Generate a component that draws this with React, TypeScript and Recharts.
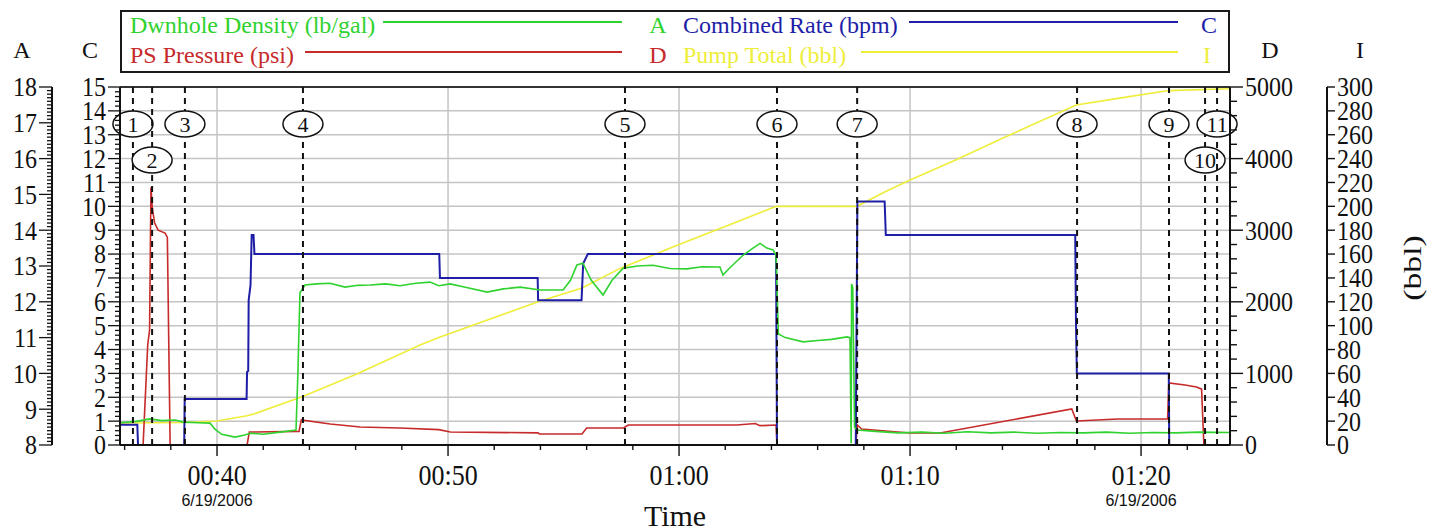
import React from "react";
import {
  LineChart,
  Line,
  XAxis,
  YAxis,
  CartesianGrid,
  ReferenceLine,
  Legend,
} from "recharts";

const SERIF = '"Liberation Serif", "Times New Roman", serif';
const SANS = '"Liberation Sans", Arial, sans-serif';

// time is minutes after midnight, value in the series' own unit
const density: [number, number][] = [
  [35.8, 8.62], [36.5, 8.66], [37.1, 8.73], [37.6, 8.68], [38.2, 8.7], [38.53, 8.64],
  [39.2, 8.62], [39.7, 8.61], [39.9, 8.45], [40.2, 8.3], [40.78, 8.22], [41.2, 8.28],
  [41.43, 8.33], [42.0, 8.3], [42.73, 8.36], [43.42, 8.42], [43.5, 10.0], [43.59, 12.25],
  [43.81, 12.47], [44.3, 12.5], [44.89, 12.52], [45.54, 12.41], [46.1, 12.46], [46.62, 12.47],
  [47.3, 12.5], [47.92, 12.45], [48.6, 12.52], [49.22, 12.55], [49.6, 12.45], [50.09, 12.5],
  [50.8, 12.4], [51.69, 12.27], [52.4, 12.36], [53.12, 12.41], [54.0, 12.33], [54.98, 12.33],
  [55.3, 12.6], [55.58, 13.03], [55.84, 13.08], [56.2, 12.6], [56.71, 12.19], [57.1, 12.6],
  [57.58, 12.94], [58.2, 13.0], [58.87, 13.02], [59.6, 12.93], [60.35, 12.92], [61.0, 12.98],
  [61.77, 12.97], [61.9, 12.75], [62.2, 12.95], [62.77, 13.3], [63.2, 13.5], [63.51, 13.63],
  [63.8, 13.5], [64.07, 13.45], [64.2, 13.3], [64.3, 11.1], [64.6, 11.0], [65.37, 10.88],
  [66.0, 10.92], [66.6, 10.95], [67.27, 11.02], [67.4, 11.0], [67.45, 8.05], [67.47, 12.5],
  [67.52, 12.4], [67.6, 8.5], [67.71, 8.42], [68.5, 8.38], [69.5, 8.34], [70.5, 8.36],
  [71.5, 8.33], [72.5, 8.37], [73.5, 8.34], [74.5, 8.36], [75.5, 8.33], [76.5, 8.35],
  [77.5, 8.34], [78.5, 8.36], [79.5, 8.33], [80.5, 8.35], [81.5, 8.34], [82.5, 8.36],
  [83.85, 8.35],
];

const combinedRate: [number, number][] = [
  [35.8, 0.85], [36.55, 0.85], [36.58, 0], [38.58, 0], [38.6, 1.93], [41.28, 1.93],
  [41.3, 3.06], [41.35, 3.1], [41.37, 6.07], [41.45, 6.7], [41.5, 8.8], [41.58, 8.8],
  [41.62, 8.0], [49.62, 8.0], [49.65, 7.0], [53.88, 7.0], [53.9, 6.07], [55.78, 6.07],
  [55.85, 7.6], [56.05, 8.0], [64.2, 8.0], [64.24, 0], [67.65, 0], [67.72, 10.2],
  [68.9, 10.2], [68.95, 8.8], [77.15, 8.8], [77.18, 5.3], [77.22, 3.0], [81.2, 3.0],
  [81.22, 0], [83.85, 0],
];

const psPressure: [number, number][] = [
  [35.8, 0], [36.8, 0], [36.9, 700], [37.0, 1400], [37.08, 1600], [37.14, 3600],
  [37.2, 3300], [37.3, 3100], [37.45, 3000], [37.75, 2960], [37.85, 2900], [37.97, 0],
  [41.3, 0], [41.4, 181], [43.55, 190], [43.65, 350], [44.9, 293], [46.2, 251],
  [47.9, 237], [49.6, 215], [50.1, 181], [53.9, 170], [53.95, 154], [55.8, 154],
  [56.0, 237], [57.6, 237], [57.8, 279], [62.5, 279], [63.3, 300], [63.5, 270],
  [64.2, 279], [64.24, 0], [67.65, 0], [67.72, 279], [67.9, 223], [70.0, 168],
  [71.3, 168], [77.0, 503], [77.2, 335], [79.0, 363], [81.15, 363], [81.2, 866],
  [81.9, 838], [82.4, 810], [82.62, 780], [82.72, 0], [83.85, 0],
];

const pumpTotal: [number, number][] = [
  [35.8, 18.4], [38.6, 18.8], [40.0, 20.1], [41.3, 24.5], [41.6, 26], [43.68, 40.5],
  [46.0, 59], [48.79, 83.8], [49.6, 90], [53.9, 120], [55.8, 131.5], [57.45, 148],
  [60.0, 168], [62.0, 183], [64.07, 199], [64.24, 200], [67.7, 200], [68.9, 212],
  [70.0, 222], [72.0, 239], [74.0, 257], [77.19, 285], [79.0, 290.5], [81.2, 297],
  [83.85, 298.5],
];

const markerTimes = [36.36, 37.19, 38.61, 43.72, 57.66, 64.24, 67.71, 77.23, 81.21, 82.77, 83.29];
const markerLabels = ["1", "2", "3", "4", "5", "6", "7", "8", "9", "10", "11"];
const markerRows = [0, 1, 0, 0, 0, 0, 0, 0, 0, 1, 0];

const timeTicks = [36, 38, 40, 42, 44, 46, 48, 50, 52, 54, 56, 58, 60, 62, 64, 66, 68, 70, 72, 74, 76, 78, 80, 82];
const timeLabels: Record<number, string> = { 40: "00:40", 50: "00:50", 60: "01:00", 70: "01:10", 80: "01:20" };
const dateTicks = [40, 80];
const dateLabel = "6/19/2006";

const densityLabels = [8, 9, 10, 11, 12, 13, 14, 15, 16, 17, 18];
const rateLabels = [0, 1, 2, 3, 4, 5, 6, 7, 8, 9, 10, 11, 12, 13, 14, 15];
const pressureLabels = [0, 1000, 2000, 3000, 4000, 5000];
const pumpLabels = [0, 20, 40, 60, 80, 100, 120, 140, 160, 180, 200, 220, 240, 260, 280, 300];

// axis ids: y1/y3 sit next to the plot, y2/y4 further out
const series = [
  { name: "Pump Total (bbl)", axis: "y4", color: "#eeee3a", width: 1.6, data: pumpTotal },
  { name: "PS Pressure (psi)", axis: "y3", color: "#c62a2a", width: 1.6, data: psPressure },
  { name: "Combined Rate (bpm)", axis: "y1", color: "#1e1ea6", width: 2, data: combinedRate },
  { name: "Dwnhole Density (lb/gal)", axis: "y2", color: "#2fd22f", width: 1.6, data: density },
];

// legend placement inside the box (box starts at x=120, y=10)
const legendSlots: Record<string, { row: number; textX: number; lineFrom: number; lineTo: number; letterX: number; letter: string }> = {
  "Dwnhole Density (lb/gal)": { row: 0, textX: 10, lineFrom: 263, lineTo: 502, letterX: 538, letter: "A" },
  "PS Pressure (psi)": { row: 1, textX: 10, lineFrom: 185, lineTo: 502, letterX: 538, letter: "D" },
  "Combined Rate (bpm)": { row: 0, textX: 563, lineFrom: 789, lineTo: 1058, letterX: 1089, letter: "C" },
  "Pump Total (bbl)": { row: 1, textX: 563, lineFrom: 741, lineTo: 1058, letterX: 1087, letter: "I" },
};

const steps = (from: number, to: number, step: number) => {
  const n = Math.round((to - from) / step);
  return Array.from({ length: n + 1 }, (_, i) => Math.round((from + i * step) * 1000) / 1000);
};

const isIn = (list: number[], v: number) => list.some((l) => Math.abs(l - v) < 1e-6);

type STextProps = {
  x: number;
  y: number;
  size: number;
  sy?: number;
  anchor?: "start" | "middle" | "end";
  family?: string;
  fill?: string;
  children: React.ReactNode;
};

function SText({ x, y, size, sy = 1, anchor = "middle", family = SERIF, fill = "#111", children }: STextProps) {
  return (
    <text
      transform={`translate(${x},${y}) scale(1,${sy})`}
      textAnchor={anchor}
      fontSize={size}
      fontFamily={family}
      fill={fill}
      dy="0.35em"
    >
      {children}
    </text>
  );
}

function leftTick(labels: number[], minor: number, major: number) {
  return (props: any) => {
    const { x, y, payload } = props;
    const isMajor = isIn(labels, payload.value);
    return (
      <g>
        <line x1={x} x2={x - (isMajor ? major : minor)} y1={y} y2={y} stroke="#111" strokeWidth={1.3} />
        {isMajor && (
          <SText x={x - major - 2} y={y} size={24} sy={1.12} anchor="end">
            {Math.round(payload.value)}
          </SText>
        )}
      </g>
    );
  };
}

function rightTick(labels: number[], minor: number, major: number) {
  return (props: any) => {
    const { x, y, payload } = props;
    const isMajor = isIn(labels, payload.value);
    return (
      <g>
        <line x1={x} x2={x + (isMajor ? major : minor)} y1={y} y2={y} stroke="#111" strokeWidth={1.4} />
        {isMajor && (
          <SText x={x + major + 2} y={y} size={24} sy={1.12} anchor="start">
            {Math.round(payload.value)}
          </SText>
        )}
      </g>
    );
  };
}

function TimeTick(props: any) {
  const { x, y, payload } = props;
  const label = timeLabels[payload.value];
  return (
    <g>
      <line x1={x} x2={x} y1={y} y2={y + (label ? 11 : 5)} stroke="#111" strokeWidth={1.4} />
      {label && (
        <SText x={x} y={y + 30} size={26} sy={1.1}>
          {label}
        </SText>
      )}
      {isIn(dateTicks, payload.value) && (
        <SText x={x} y={y + 55} size={16} family={SANS}>
          {dateLabel}
        </SText>
      )}
    </g>
  );
}

const axisTitle = (text: string, dx: number) => (props: any) => {
  const vb = props.viewBox;
  return (
    <SText x={vb.x + dx} y={vb.y - 37} size={24}>
      {text}
    </SText>
  );
};

// the outer right axis carries both its letter and the unit title
const pumpAxisTitle = (props: any) => {
  const vb = props.viewBox;
  return (
    <g>
      <SText x={vb.x + 33} y={vb.y - 37} size={24}>
        I
      </SText>
      <text
        transform={`translate(${vb.x + 85},${vb.y + 181}) rotate(-90) scale(1.3,1)`}
        textAnchor="middle"
        fontSize={26}
        fontFamily={SERIF}
        fill="#111"
        dy="0.35em"
      >
        (bbl)
      </text>
    </g>
  );
};

const timeTitle = (props: any) => {
  const vb = props.viewBox;
  return (
    <SText x={vb.x + vb.width / 2} y={vb.y + 70} size={30}>
      Time
    </SText>
  );
};

const markerLabel = (label: string, row: number) => (props: any) => {
  const vb = props.viewBox;
  const cy = row === 0 ? 124 : 160;
  return (
    <g>
      <ellipse cx={vb.x} cy={cy} rx={20} ry={13} fill="#fff" stroke="#111" strokeWidth={1.5} />
      <SText x={vb.x} y={cy} size={22}>
        {label}
      </SText>
    </g>
  );
};

function LegendBox(props: any) {
  const payload: any[] = props.payload ?? [];
  return (
    <svg width={1110} height={63} style={{ display: "block" }}>
      <rect x={1} y={1} width={1108} height={61} fill="#fff" stroke="#1a1a1a" strokeWidth={2} />
      {payload.map((item) => {
        const slot = legendSlots[item.value];
        if (!slot) return null;
        const base = slot.row === 0 ? 23 : 53;
        const lineY = slot.row === 0 ? 12 : 42;
        return (
          <g key={item.value}>
            <text x={slot.textX} y={base} fill={item.color} fontFamily={SERIF} fontSize={24}>
              {item.value}
            </text>
            <line x1={slot.lineFrom} x2={slot.lineTo} y1={lineY} y2={lineY} stroke={item.color} strokeWidth={2} />
            <text x={slot.letterX} y={base} fill={item.color} fontFamily={SERIF} fontSize={24} textAnchor="middle">
              {slot.letter}
            </text>
          </g>
        );
      })}
    </svg>
  );
}

export default function App() {
  return (
    <div style={{ position: "absolute", left: 0, top: 0, background: "#fff" }}>
      <LineChart width={1429} height={531} margin={{ top: 87, right: 0, bottom: 0, left: 0 }}>
        <CartesianGrid
          yAxisId="y1"
          horizontalValues={rateLabels.slice(1, -1)}
          verticalValues={[40, 50, 60, 70, 80]}
          stroke="#c4c4c4"
          strokeWidth={1.5}
        />
        <XAxis
          type="number"
          dataKey="t"
          domain={[35.8, 83.85]}
          allowDataOverflow
          ticks={timeTicks}
          interval={0}
          height={86}
          tickSize={0}
          tickMargin={0}
          tick={TimeTick}
          axisLine={{ stroke: "#111", strokeWidth: 2 }}
          label={timeTitle}
        />
        <YAxis
          yAxisId="y1"
          orientation="left"
          width={68}
          domain={[0, 15]}
          allowDataOverflow
          ticks={steps(0, 15, 0.2)}
          interval={0}
          tickSize={0}
          tickMargin={0}
          tick={leftTick(rateLabels, 5, 12)}
          axisLine={{ stroke: "#111", strokeWidth: 2 }}
          label={axisTitle("C", 38)}
        />
        <YAxis
          yAxisId="y2"
          orientation="left"
          width={52}
          domain={[8, 18]}
          allowDataOverflow
          ticks={steps(8, 18, 0.1)}
          interval={0}
          tickSize={0}
          tickMargin={0}
          tick={leftTick(densityLabels, 5, 13)}
          axisLine={{ stroke: "#111", strokeWidth: 2 }}
          label={axisTitle("A", 22)}
        />
        <YAxis
          yAxisId="y3"
          orientation="right"
          width={97}
          domain={[0, 5000]}
          allowDataOverflow
          ticks={steps(0, 5000, 200)}
          interval={0}
          tickSize={0}
          tickMargin={0}
          tick={rightTick(pressureLabels, 7, 13)}
          axisLine={{ stroke: "#111", strokeWidth: 2 }}
          label={axisTitle("D", 40)}
        />
        <YAxis
          yAxisId="y4"
          orientation="right"
          width={102}
          domain={[0, 300]}
          allowDataOverflow
          ticks={pumpLabels}
          interval={0}
          tickSize={0}
          tickMargin={0}
          tick={rightTick(pumpLabels, 8, 8)}
          axisLine={{ stroke: "#111", strokeWidth: 2 }}
          label={pumpAxisTitle}
        />
        <Legend
          verticalAlign="middle"
          layout="horizontal"
          content={LegendBox}
          wrapperStyle={{ top: 10, left: 120, width: 1110, height: 63 }}
        />
        {series.map((s) => (
          <Line
            key={s.name}
            name={s.name}
            yAxisId={s.axis}
            data={s.data.map(([t, v]) => ({ t, v }))}
            dataKey="v"
            type="linear"
            stroke={s.color}
            strokeWidth={s.width}
            dot={false}
            activeDot={false}
            isAnimationActive={false}
          />
        ))}
        <ReferenceLine yAxisId="y1" y={15} stroke="#333" strokeWidth={2} />
        {markerTimes.map((t, i) => (
          <ReferenceLine
            key={markerLabels[i]}
            yAxisId="y1"
            x={t}
            stroke="#111"
            strokeWidth={2}
            strokeDasharray="6 5"
            label={markerLabel(markerLabels[i], markerRows[i])}
          />
        ))}
      </LineChart>
    </div>
  );
}
